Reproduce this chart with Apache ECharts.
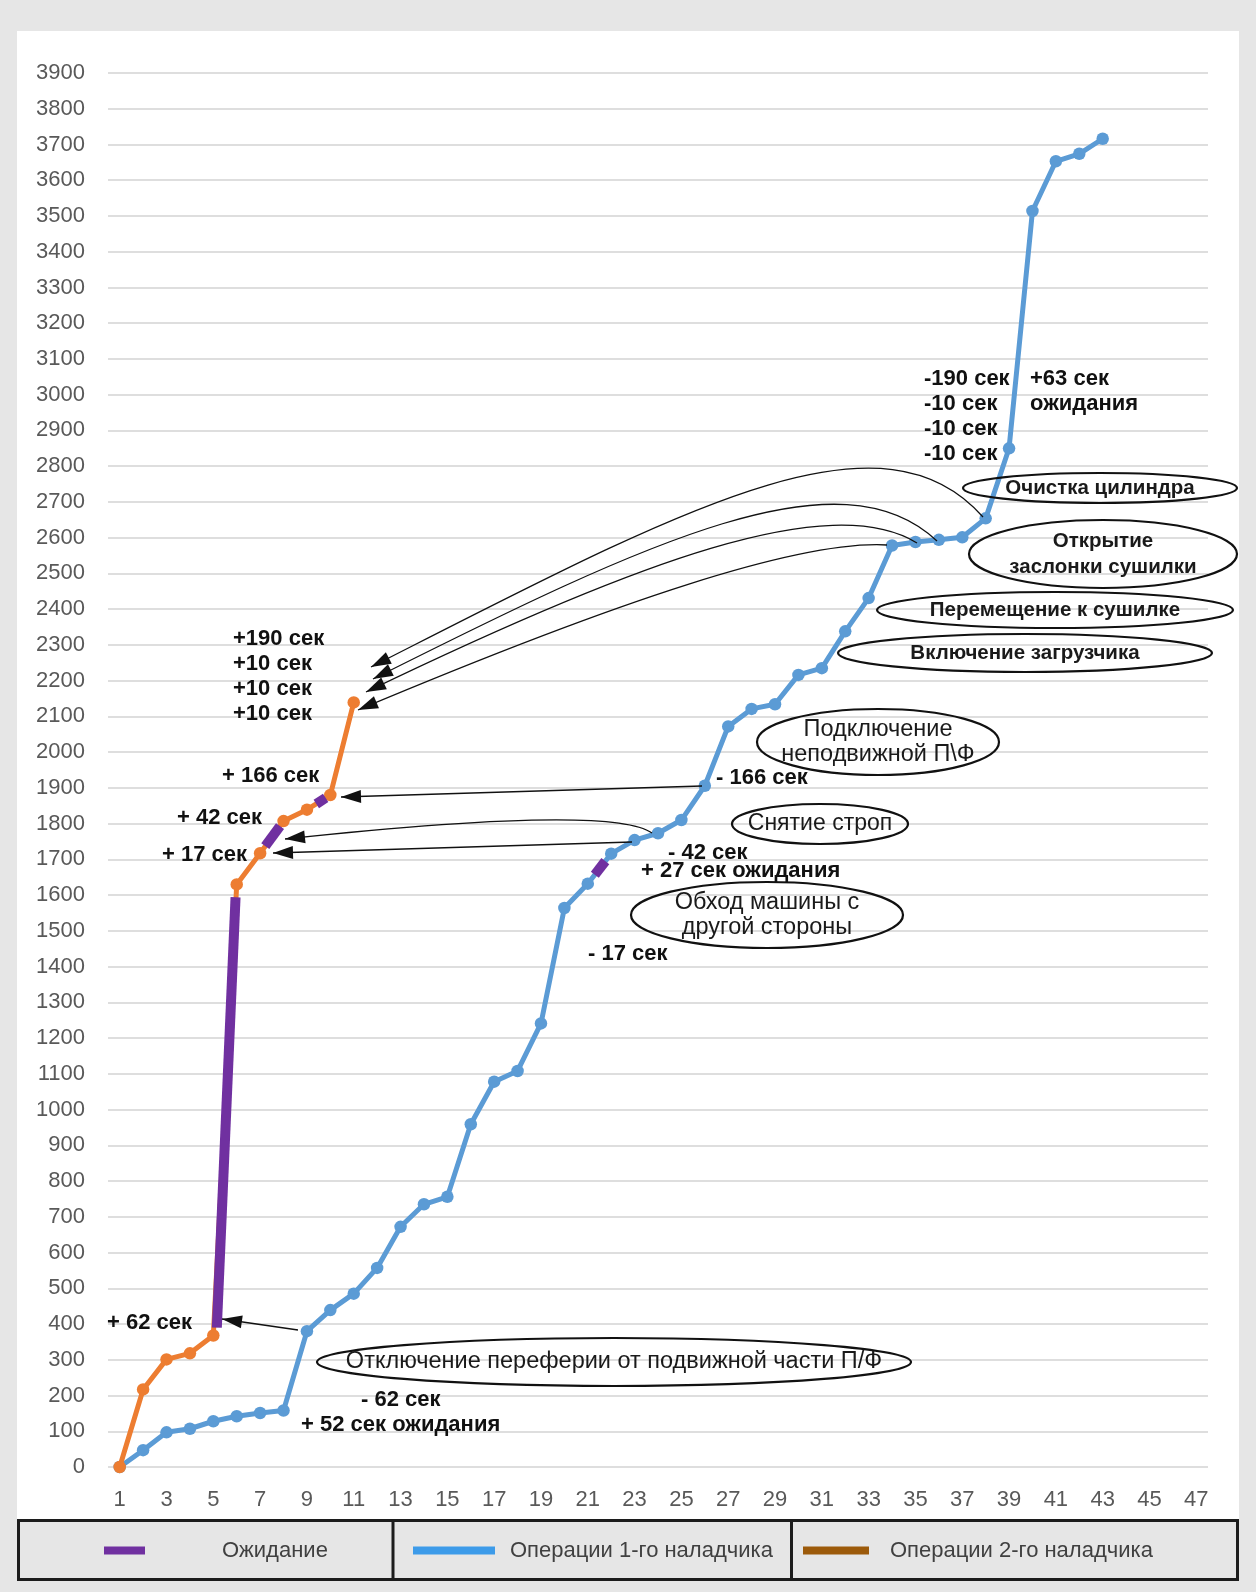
<!DOCTYPE html>
<html>
<head>
<meta charset="utf-8">
<script src="https://cdn.jsdelivr.net/npm/echarts@6/dist/echarts.min.js"></script>
<style>
  html, body { margin: 0; padding: 0; background: #e6e6e6; }
  #chart { width: 1256px; height: 1592px; }
</style>
</head>
<body>
<div id="chart"></div>
<script>
// x tick labels (step numbers)
const xTicks = [1, 3, 5, 7, 9, 11, 13, 15, 17, 19, 21, 23, 25, 27, 29, 31, 33, 35, 37, 39, 41, 43, 45, 47]

// cumulative time, sec, for steps 1..43 (1st operator)
const op1Time = [0, 47, 97, 107, 128, 142, 151, 158, 380, 439, 485, 557, 672, 735, 756, 959, 1078, 1108,
  1241, 1564, 1632, 1716, 1754, 1773, 1810, 1906, 2072, 2121, 2134, 2216, 2235, 2338, 2431, 2578, 2588,
  2594, 2601, 2654, 2850, 3514, 3653, 3674, 3716]

// cumulative time, sec, for steps 1..11 (2nd operator)
const op2Time = [0, 217, 301, 318, 368, 1630, 1717, 1807, 1839, 1880, 2139]

// waiting pieces: [step, sec] start and end
const waitStart = [[5.15, 390], [7.22, 1737], [9.4, 1855], [21.3, 1657]]
const waitEnd = [[5.95, 1594], [7.85, 1793], [9.8, 1872], [21.75, 1695]]

const seriesNames = ['Ожидание', 'Операции 1-го наладчика', 'Операции 2-го наладчика']

const FONT = '"Liberation Sans", Arial, sans-serif'

// --- annotations (pixel positions) ---
const notes = [
  ['+190 сек', 233, 639], ['+10 сек', 233, 664], ['+10 сек', 233, 689], ['+10 сек', 233, 714],
  ['+ 166 сек', 222, 776], ['+ 42 сек', 177, 818], ['+ 17 сек', 162, 855],
  ['+ 62 сек', 107, 1323], ['- 62 сек', 361, 1400], ['+ 52 сек ожидания', 301, 1425],
  ['- 17 сек', 588, 954], ['- 42 сек', 668, 853], ['+ 27 сек ожидания', 641, 871],
  ['- 166 сек', 716, 778],
  ['-190 сек', 924, 379], ['-10 сек', 924, 404], ['-10 сек', 924, 429], ['-10 сек', 924, 454],
  ['+63 сек', 1030, 379], ['ожидания', 1030, 404]
]

const bubbles = [
  ['Отключение переферии от подвижной части П/Ф', 614, 1362, 297, 24, 23.5, 'normal'],
  ['Обход машины с\nдругой стороны', 767, 915, 136, 33, 23.5, 'normal'],
  ['Снятие строп', 820, 824, 88, 20, 23, 'normal'],
  ['Подключение\nнеподвижной П\\Ф', 878, 742, 121, 33, 23.5, 'normal'],
  ['Включение загрузчика', 1025, 653, 187, 19, 20.5, 'bold'],
  ['Перемещение к сушилке', 1055, 610, 178, 18, 20.5, 'bold'],
  ['Открытие\nзаслонки сушилки', 1103, 554, 134, 34, 20.5, 'bold'],
  ['Очистка цилиндра', 1100, 488, 137, 15, 20.5, 'bold']
]

// arrows: source, control points, tip
const arrows = [
  { s: [983, 517], c1: [880, 400], c2: [680, 510], t: [371, 667] },
  { s: [937, 541], c1: [840, 450], c2: [650, 540], t: [373, 679] },
  { s: [917, 543], c1: [830, 490], c2: [640, 560], t: [366, 692] },
  { s: [887, 545], c1: [800, 540], c2: [620, 600], t: [358, 710] },
  { s: [702, 786], t: [341, 797] },
  { s: [652, 833], c1: [611, 804], t: [285, 839] },
  { s: [632, 842], t: [273, 853] },
  { s: [298, 1330], t: [222, 1319] }
]

function arrowGraphics(a) {
  const out = []
  const shape = { x1: a.s[0], y1: a.s[1], x2: a.t[0], y2: a.t[1] }
  let from = a.s
  if (a.c1) {
    shape.cpx1 = a.c1[0]; shape.cpy1 = a.c1[1]
    from = a.c1
  }
  if (a.c2) {
    shape.cpx2 = a.c2[0]; shape.cpy2 = a.c2[1]
    from = a.c2
  }
  out.push({
    type: a.c1 ? 'bezierCurve' : 'line',
    shape: shape,
    style: { stroke: '#111', lineWidth: 1.3, fill: null },
    z: 50
  })
  let dx = a.t[0] - from[0], dy = a.t[1] - from[1]
  const len = Math.sqrt(dx * dx + dy * dy)
  dx /= len; dy /= len
  const L = 20, W = 6.5
  const bx = a.t[0] - dx * L, by = a.t[1] - dy * L
  out.push({
    type: 'polygon',
    shape: { points: [a.t, [bx - dy * W, by + dx * W], [bx + dy * W, by - dx * W]] },
    style: { fill: '#111' },
    z: 51
  })
  return out
}

const graphics = [
  // white panel
  { type: 'rect', shape: { x: 17, y: 31, width: 1222, height: 1489 }, style: { fill: '#fff' }, z: -100 },
  // legend table
  { type: 'rect', shape: { x: 18.5, y: 1520.5, width: 1219, height: 59 },
    style: { fill: '#e6e6e6', stroke: '#1c1c1c', lineWidth: 3 }, z: -90 },
  { type: 'line', shape: { x1: 393, y1: 1520, x2: 393, y2: 1580 }, style: { stroke: '#1c1c1c', lineWidth: 3 }, z: -89 },
  { type: 'line', shape: { x1: 791.5, y1: 1520, x2: 791.5, y2: 1580 }, style: { stroke: '#1c1c1c', lineWidth: 3 }, z: -89 }
]

notes.forEach(([text, x, y]) => {
  graphics.push({
    type: 'text', x: x, y: y, z: 60,
    style: { text: text, fontSize: 22, fontWeight: 'bold', fontFamily: FONT, fill: '#111',
      align: 'left', verticalAlign: 'middle' }
  })
})

bubbles.forEach(([text, cx, cy, rx, ry, size, weight]) => {
  graphics.push({
    type: 'ellipse', z: 55,
    shape: { cx: cx, cy: cy, rx: rx, ry: ry },
    style: { stroke: '#111', lineWidth: 2.2, fill: null }
  })
  graphics.push({
    type: 'text', x: cx, y: cy, z: 56,
    style: { text: text, fontSize: size, fontWeight: weight, fontFamily: FONT, fill: '#1a1a1a',
      align: 'center', verticalAlign: 'middle', lineHeight: weight === 'bold' ? 26 : 25 }
  })
})

arrows.forEach((a) => graphics.push(...arrowGraphics(a)))

const chart = echarts.init(document.getElementById('chart'))

const waitSeries = waitStart.map((p, i) => ({
  name: seriesNames[0],
  type: 'line',
  data: [p, waitEnd[i]],
  symbol: 'none',
  lineStyle: { color: '#7030a0', width: 10, cap: 'butt' },
  itemStyle: { color: '#7030a0' },
  z: 5,
  silent: true
}))

function legendBlock(name, left, iconW, color, textPad) {
  return {
    data: [{ name: name, itemStyle: { color: color } }],
    left: left,
    top: 1538,
    padding: 0,
    icon: 'rect',
    itemWidth: iconW,
    itemHeight: 8,
    selectedMode: false,
    textStyle: { fontSize: 22, color: '#404040', fontFamily: FONT, lineHeight: 25, padding: [0, 0, 0, textPad] }
  }
}

chart.setOption({
  backgroundColor: '#e6e6e6',
  animation: false,
  grid: { left: 108, right: 48, top: 73, bottom: 125, show: false },
  xAxis: {
    type: 'value',
    min: 0.5,
    max: 47.5,
    axisLine: { show: false },
    axisTick: { show: false },
    splitLine: { show: false },
    axisLabel: { customValues: xTicks, color: '#595959', fontSize: 22, fontFamily: FONT, margin: 22 }
  },
  yAxis: {
    type: 'value',
    min: 0,
    max: 3900,
    interval: 100,
    axisLine: { show: false },
    axisTick: { show: false },
    axisLabel: { color: '#595959', fontSize: 22, fontFamily: FONT, margin: 23, formatter: (v) => String(v) },
    splitLine: { lineStyle: { color: '#dedede', width: 2 } }
  },
  legend: [
    legendBlock(seriesNames[0], 104, 41, '#7030a0', 72),
    legendBlock(seriesNames[1], 413, 82, '#3d9be9', 10),
    legendBlock(seriesNames[2], 803, 66, '#9c5a0a', 16)
  ],
  series: [
    {
      name: seriesNames[1],
      type: 'line',
      data: op1Time.map((v, i) => [i + 1, v]),
      symbol: 'circle',
      symbolSize: 12.5,
      lineStyle: { color: '#5b9bd5', width: 5 },
      itemStyle: { color: '#5b9bd5' },
      z: 3
    },
    {
      name: seriesNames[2],
      type: 'line',
      data: op2Time.map((v, i) => [i + 1, v]),
      symbol: 'circle',
      symbolSize: 12.5,
      lineStyle: { color: '#ed7d31', width: 5 },
      itemStyle: { color: '#ed7d31' },
      z: 4
    },
    ...waitSeries
  ],
  graphic: graphics
})

window.addEventListener('resize', () => chart.resize())
</script>
</body>
</html>
